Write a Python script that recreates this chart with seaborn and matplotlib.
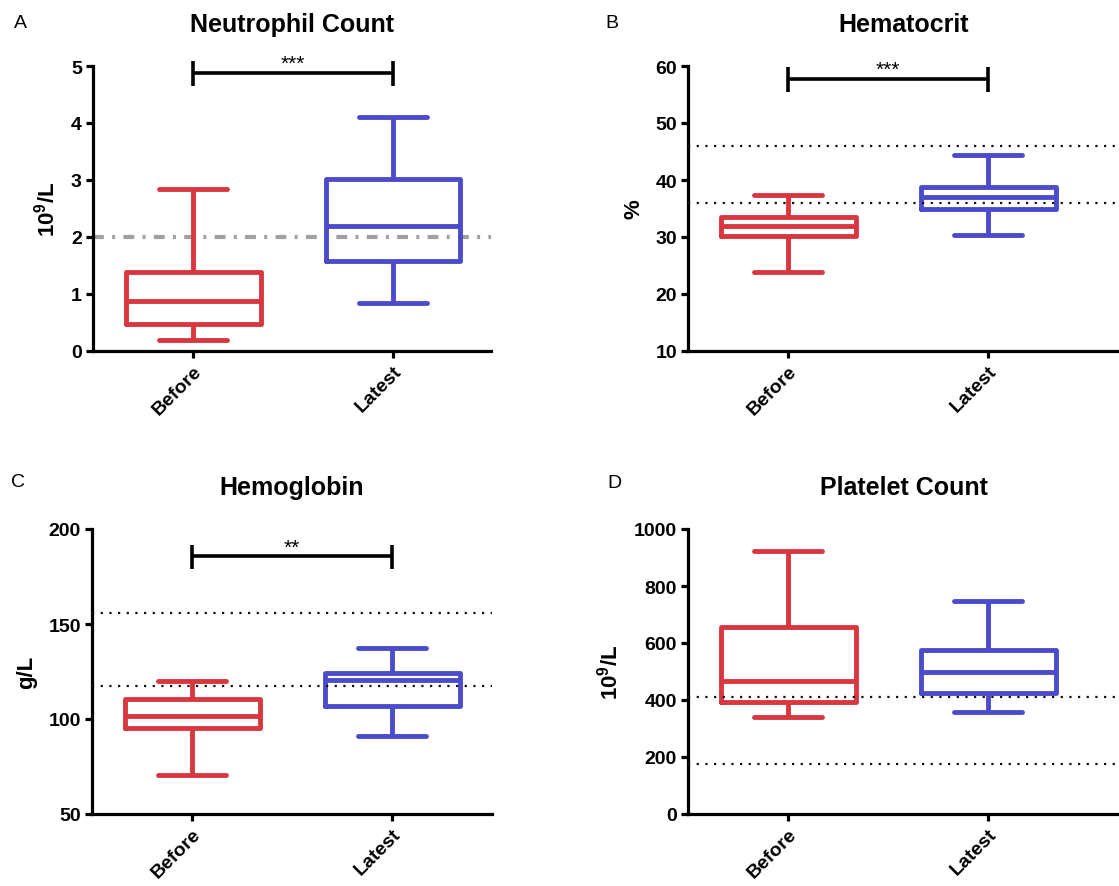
import numpy as np
import pandas as pd
import matplotlib
matplotlib.use("Agg")
import matplotlib.pyplot as plt
import seaborn as sns

# ---- data (min, Q1, median, Q3, max) ----
groups = ["Before", "Latest"]

neut_before = [0.20, 0.47, 0.87, 1.38, 2.84]
neut_latest = [0.85, 1.58, 2.20, 3.02, 4.10]

hct_before = [23.9, 30.2, 32.0, 33.5, 37.4]
hct_latest = [30.4, 34.9, 37.0, 38.8, 44.4]

hgb_before = [70.7, 95.1, 101.8, 110.5, 119.8]
hgb_latest = [90.9, 107.0, 120.4, 124.2, 137.4]

plt_before = [339, 392, 468, 655, 924]
plt_latest = [357, 423, 499, 575, 746]

titles = ["Neutrophil Count", "Hematocrit", "Hemoglobin", "Platelet Count"]
letters = ["A", "B", "C", "D"]
ylabels = [r"$\mathbf{10^{9}/L}$", "%", "g/L", r"$\mathbf{10^{9}/L}$"]
yticks_list = [[0, 1, 2, 3, 4, 5], [10, 20, 30, 40, 50, 60],
               [50, 100, 150, 200], [0, 200, 400, 600, 800, 1000]]
ref_lines = [[2.0], [46.0, 36.0], [155.8, 117.5], [409, 175]]
sig_text = ["***", "***", "**", None]
sig_y = [4.88, 57.7, 185.6, None]
sig_cap = [(4.65, 5.09), (55.4, 59.8), (179.0, 191.6), None]

series = [(neut_before, neut_latest), (hct_before, hct_latest),
          (hgb_before, hgb_latest), (plt_before, plt_latest)]

RED = "#D9373F"
BLUE = "#4B4BCB"
palette = {"Before": RED, "Latest": BLUE}

sns.set_style("ticks")
plt.rcParams["font.family"] = ["Liberation Sans", "DejaVu Sans"]
plt.rcParams["mathtext.fontset"] = "custom"
plt.rcParams["mathtext.rm"] = "Liberation Sans"
plt.rcParams["mathtext.bf"] = "Liberation Sans:bold"
for k in ["text.color", "axes.labelcolor", "xtick.color", "ytick.color",
          "axes.edgecolor"]:
    plt.rcParams[k] = "black"

fig = plt.figure(figsize=(11.19, 8.87), dpi=100)

W, H = 1119.0, 887.0
# axes rectangles in pixels: left, top, right, bottom
rects_px = [(93, 67, 491, 352), (688, 67, 1119, 352),
            (92, 530, 492, 815), (688, 530, 1119, 815)]
xlims = [(-0.5, 1.49), (-0.5, 1.655), (-0.5, 1.5), (-0.5, 1.655)]
letter_pos = [(20, 23), (612, 23), (18, 483), (614, 484)]

for i in range(4):
    l, t, r, b = rects_px[i]
    ax = fig.add_axes([l / W, (H - b) / H, (r - l) / W, (b - t) / H])
    bvals, lvals = series[i]
    df = pd.DataFrame({
        "group": [groups[0]] * len(bvals) + [groups[1]] * len(lvals),
        "value": list(bvals) + list(lvals),
    })
    sns.boxplot(data=df, x="group", y="value", hue="group", palette=palette,
                fill=False, whis=(0, 100), width=0.675, linewidth=3.5,
                showfliers=False, legend=False, ax=ax)

    yt = yticks_list[i]
    ax.set_ylim(yt[0], yt[-1])
    ax.set_yticks(yt)
    ax.set_xlim(*xlims[i])
    ax.set_xlabel("")
    ax.set_ylabel(ylabels[i], fontsize=16, fontweight="bold", labelpad=8,
                  color="black")
    ax.set_title(titles[i], fontsize=18, fontweight="bold", pad=25.5,
                 color="black")

    for s in ["top", "right"]:
        ax.spines[s].set_visible(False)
    for s in ["left", "bottom"]:
        ax.spines[s].set_linewidth(2.3)
        ax.spines[s].set_color("black")
    ax.tick_params(axis="both", width=2.3, length=5, color="black",
                   labelcolor="black", labelsize=14, pad=3)
    for lab in ax.get_yticklabels():
        lab.set_fontweight("bold")
    ax.set_xticks([0, 1])
    ax.set_xticklabels(groups, rotation=45, ha="right",
                       rotation_mode="anchor", fontweight="bold", fontsize=14)

    # reference lines
    for yv in ref_lines[i]:
        if i == 0:
            ax.axhline(yv, color="#A0A0A0", lw=3.0,
                       linestyle=(0, (2.6, 2.0, 0.7, 2.0)), zorder=1)
        else:
            ax.axhline(yv, color="#111111", lw=1.6,
                       linestyle=(0, (1, 2.9)), zorder=4)

    # significance bracket
    if sig_text[i] is not None:
        y = sig_y[i]
        c0, c1 = sig_cap[i]
        ax.plot([0, 1], [y, y], color="black", lw=2.6, clip_on=False,
                solid_capstyle="butt")
        for xp in (0, 1):
            ax.plot([xp, xp], [c0, c1], color="black", lw=2.6,
                    clip_on=False, solid_capstyle="butt")
        ax.text(0.5, y, sig_text[i], ha="center", va="bottom",
                fontsize=15, color="black")

    fig.text(letter_pos[i][0] / W, 1 - letter_pos[i][1] / H, letters[i],
             fontsize=14, ha="center", va="center", color="black")

fig.savefig("out.png", dpi=100)
